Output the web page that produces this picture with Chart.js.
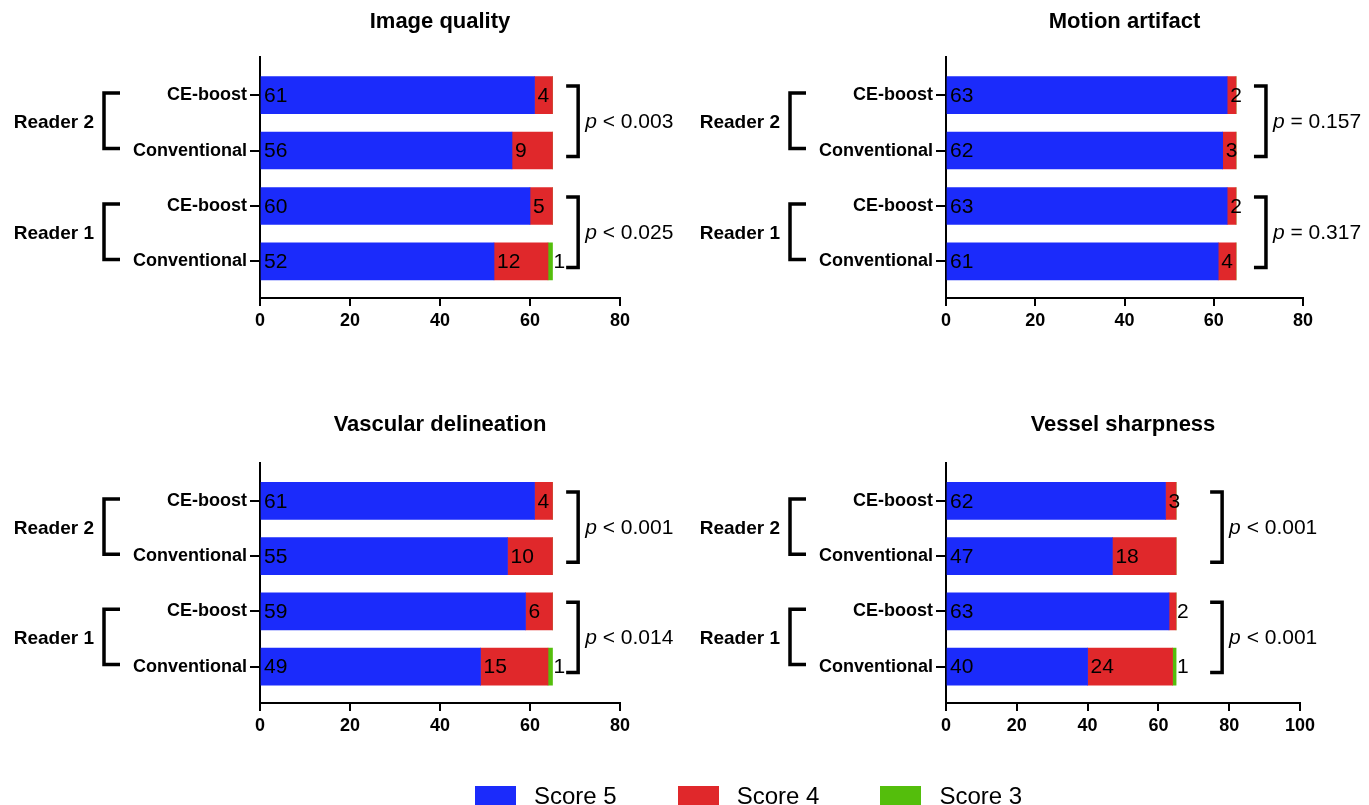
<!DOCTYPE html>
<html>
<head>
<meta charset="utf-8">
<script src="https://cdn.jsdelivr.net/npm/chart.js@4/dist/chart.umd.min.js"></script>
<style>
  html, body { margin: 0; padding: 0; background: #fff; }
  body { width: 1369px; height: 805px; position: relative; overflow: hidden; }
  canvas.panel { position: absolute; }
  #legend { position: absolute; left: 475px; top: 782px; display: flex; align-items: center;
            font-family: 'Liberation Sans', Arial, sans-serif; font-size: 24px; color: #000; }
  #legend .item { display: flex; align-items: center; margin-right: 61px; }
  #legend .box { width: 41px; height: 21px; margin-right: 18px; }
</style>
</head>
<body>
<canvas class="panel" id="c0"></canvas>
<canvas class="panel" id="c1"></canvas>
<canvas class="panel" id="c2"></canvas>
<canvas class="panel" id="c3"></canvas>
<div id="legend"></div>
<script>
// rows, top to bottom
const categories = ['CE-boost', 'Conventional', 'CE-boost', 'Conventional'];
const readers = ['Reader 2', 'Reader 1'];
const seriesNames = ['Score 5', 'Score 4', 'Score 3'];
const seriesColors = ['#1b2bfb', '#e0282b', '#54be0c'];

const titles = ['Image quality', 'Motion artifact', 'Vascular delineation', 'Vessel sharpness'];
const score5 = [[61, 56, 60, 52], [63, 62, 63, 61], [61, 55, 59, 49], [62, 47, 63, 40]];
const score4 = [[4, 9, 5, 12], [2, 3, 2, 4], [4, 10, 6, 15], [3, 18, 2, 24]];
const score3 = [[0, 0, 0, 1], [0, 0, 0, 0], [0, 0, 0, 1], [0, 0, 0, 1]];
const pValues = [['< 0.003', '< 0.025'], ['= 0.157', '= 0.317'], ['< 0.001', '< 0.014'], ['< 0.001', '< 0.001']];
const xMax = [80, 80, 80, 100];

// panel placement (page pixels)
const panels = [
  { left: 0,   top: 0,   width: 684, height: 400, padRight: 64, padBottom: 62, titleBottom: 22, bracketX: 70.7 },
  { left: 686, top: 0,   width: 683, height: 400, padRight: 66, padBottom: 62, titleBottom: 22, bracketX: 71.7 },
  { left: 0,   top: 403, width: 684, height: 400, padRight: 64, padBottom: 60, titleBottom: 25, bracketX: 70.7 },
  { left: 686, top: 403, width: 683, height: 400, padRight: 69, padBottom: 60, titleBottom: 25, bracketX: 78 }
];

const SANS = "'Liberation Sans', Arial, Helvetica, sans-serif";

const annotate = {
    id: 'annotate',
    afterDatasetsDraw(chart, args, opts) {
        const ctx = chart.ctx;
        const area = chart.chartArea;
        const xs = chart.scales.x, ys = chart.scales.y;
        ctx.save();
        ctx.fillStyle = '#000';
        ctx.textBaseline = 'middle';

        // numbers on the bars
        ctx.font = '21px ' + SANS;
        ctx.textAlign = 'left';
        chart.data.datasets.forEach((ds, di) => {
            const meta = chart.getDatasetMeta(di);
            meta.data.forEach((bar, i) => {
                const v = ds.data[i].x;
                if (!v) return;
                const w = Math.abs(bar.x - bar.base);
                const tx = (di === 2 || w < 8) ? bar.x + 1 : bar.base + 3;
                ctx.fillText(String(v), tx, bar.y + 1);
            });
        });

        // reader brackets and p values
        ctx.strokeStyle = '#000';
        ctx.lineWidth = 3.5;
        ctx.lineJoin = 'miter';
        const c = categories.map((_, i) => ys.getPixelForValue(i));
        const lx = area.left - 156;
        const rx = xs.getPixelForValue(opts.bracketX);
        readers.forEach((r, k) => {
            const y0 = c[2 * k], y1 = c[2 * k + 1];
            ctx.beginPath();
            ctx.moveTo(lx + 16, y0 - 2); ctx.lineTo(lx, y0 - 2); ctx.lineTo(lx, y1 - 2); ctx.lineTo(lx + 16, y1 - 2);
            ctx.stroke();
            ctx.font = 'bold 19px ' + SANS;
            ctx.textAlign = 'right';
            ctx.fillText(r, lx - 10, (y0 + y1) / 2);

            const r0 = y0 - 9, r1 = y1 + 6;
            ctx.beginPath();
            ctx.moveTo(rx - 12, r0); ctx.lineTo(rx, r0); ctx.lineTo(rx, r1); ctx.lineTo(rx - 12, r1);
            ctx.stroke();
            const ty = (r0 + r1) / 2 + 1;
            ctx.textAlign = 'left';
            ctx.font = 'italic 21px ' + SANS;
            ctx.fillText('p', rx + 7, ty);
            const pw = ctx.measureText('p').width;
            ctx.font = '21px ' + SANS;
            ctx.fillText(' ' + opts.pText[k], rx + 7 + pw, ty);
        });
        ctx.restore();
    }
};

panels.forEach((pl, p) => {
    const canvas = document.getElementById('c' + p);
    canvas.width = pl.width;
    canvas.height = pl.height;
    canvas.style.left = pl.left + 'px';
    canvas.style.top = pl.top + 'px';

    const rows = [score5[p], score4[p], score3[p]];
    const datasets = rows.map((vals, s) => ({
        label: seriesNames[s],
        data: vals.map((v, i) => ({ x: v, y: i })),
        backgroundColor: seriesColors[s],
        borderWidth: 0,
        barThickness: 37,
        stack: 'all'
    }));

    new Chart(canvas, {
        type: 'bar',
        data: { datasets },
        options: {
            indexAxis: 'y',
            responsive: false,
            animation: false,
            devicePixelRatio: 1,
            layout: { padding: { left: 130, right: pl.padRight, top: 0, bottom: pl.padBottom } },
            plugins: {
                legend: { display: false },
                tooltip: { enabled: false },
                title: {
                    display: true,
                    text: titles[p],
                    fullSize: false,
                    color: '#000',
                    font: { family: SANS, size: 22, weight: 'bold', lineHeight: 1.2 },
                    padding: { top: 9, bottom: pl.titleBottom }
                },
                annotate: { bracketX: pl.bracketX, pText: pValues[p] }
            },
            scales: {
                x: {
                    type: 'linear',
                    min: 0,
                    max: xMax[p],
                    stacked: true,
                    afterFit: s => { s.height = 40; },
                    border: { color: '#000', width: 2 },
                    grid: { drawOnChartArea: false, color: '#000', lineWidth: 2, tickLength: 8 },
                    ticks: {
                        stepSize: 20,
                        padding: 4,
                        maxRotation: 0,
                        color: '#000',
                        font: { family: SANS, size: 18, weight: 'bold' }
                    }
                },
                y: {
                    type: 'linear',
                    reverse: true,
                    offset: false,
                    min: -0.68,
                    max: 3.66,
                    stacked: true,
                    afterFit: s => { s.width = 130; },
                    border: { color: '#000', width: 2 },
                    grid: { offset: false, drawOnChartArea: false, color: '#000', lineWidth: 2, tickLength: 10 },
                    ticks: {
                        stepSize: 1,
                        includeBounds: false,
                        autoSkip: false,
                        padding: 3,
                        color: '#000',
                        font: { family: SANS, size: 18, weight: 'bold' },
                        callback: v => Number.isInteger(v) ? categories[v] : null
                    }
                }
            }
        },
        plugins: [annotate]
    });
});

// shared legend
const legend = document.getElementById('legend');
seriesNames.forEach((name, i) => {
    const item = document.createElement('div');
    item.className = 'item';
    const box = document.createElement('div');
    box.className = 'box';
    box.style.background = seriesColors[i];
    const label = document.createElement('span');
    label.textContent = name;
    item.appendChild(box);
    item.appendChild(label);
    legend.appendChild(item);
});
</script>
</body>
</html>
